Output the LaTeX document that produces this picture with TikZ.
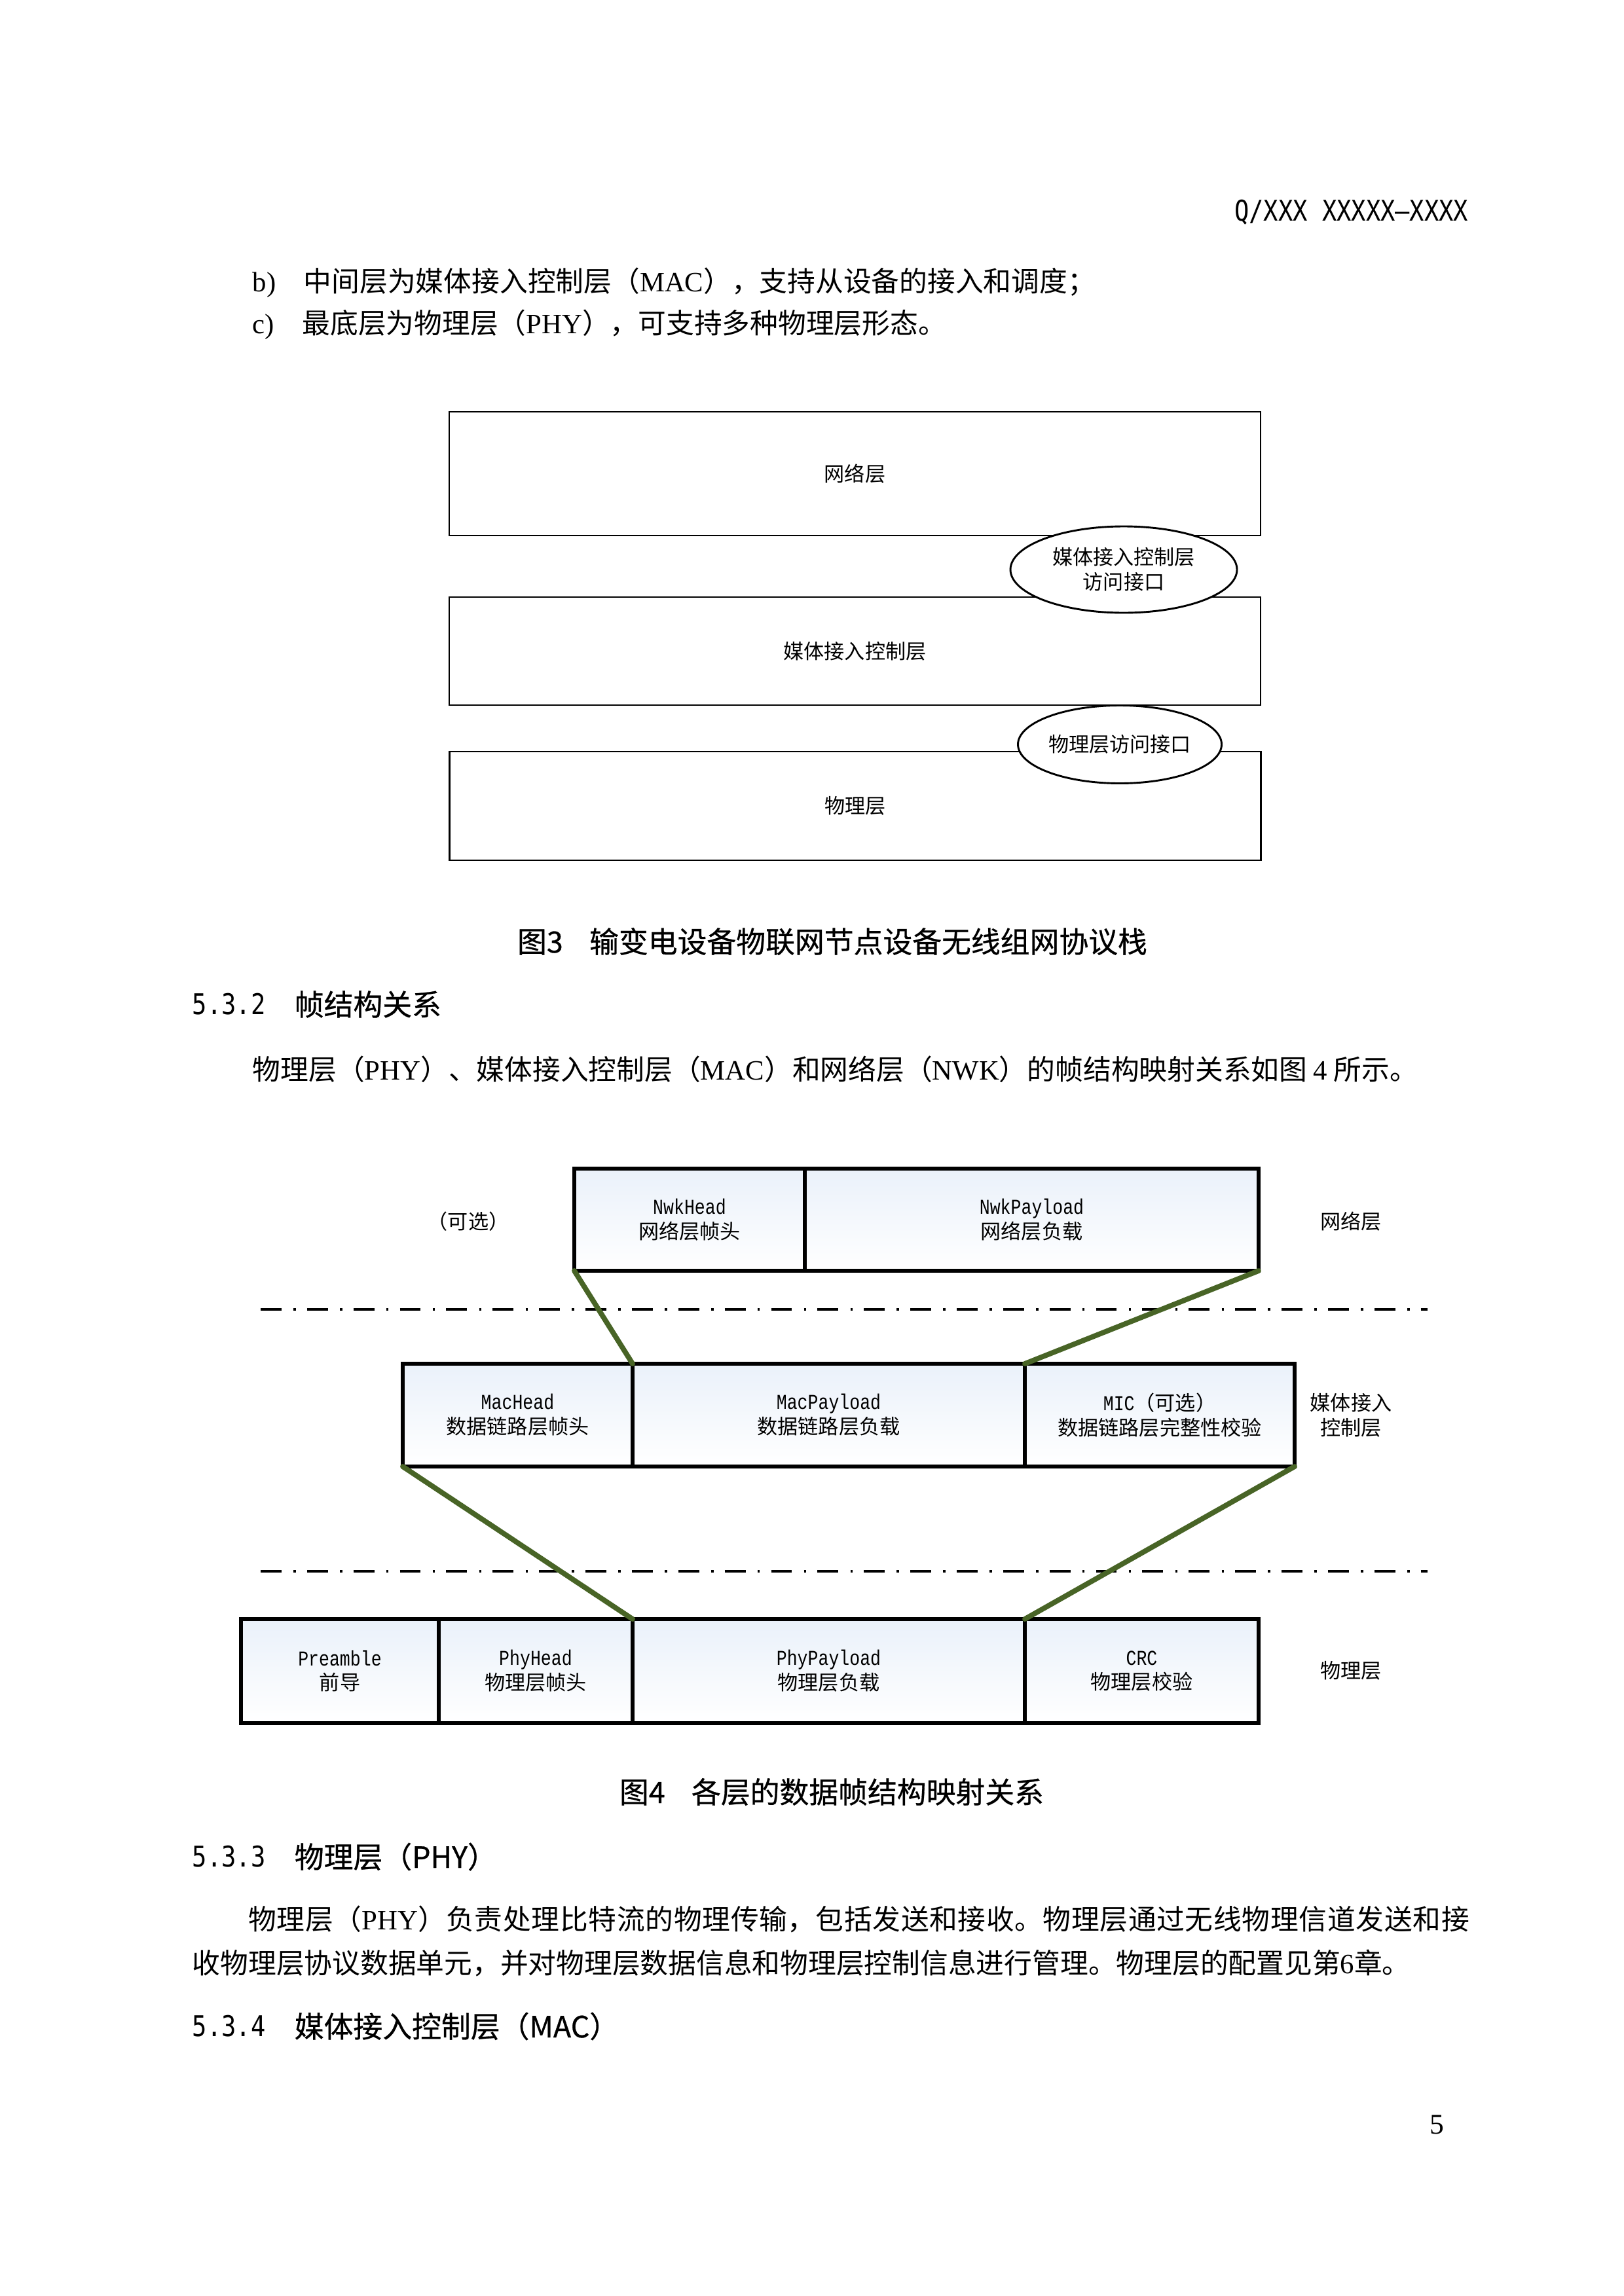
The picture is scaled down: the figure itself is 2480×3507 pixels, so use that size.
\documentclass[tikz,border=0pt]{standalone}
\usepackage{fontspec}
\setmainfont{Liberation Serif}
\newfontfamily\cjk{Noto Sans CJK SC}
\newfontfamily\hei{Noto Sans CJK SC}[FakeBold=0.6]
\newfontfamily\monolat{Liberation Mono}[FakeStretch=0.82]
\newfontfamily\sansmono{DejaVu Sans Mono}[FakeStretch=0.85]
\usetikzlibrary{positioning, shapes.geometric}
\XeTeXlinebreaklocale "zh"
\XeTeXlinebreakskip=0pt plus 1pt minus 0.1pt

\definecolor{linkgreen}{RGB}{72,100,38}
\definecolor{celltint}{RGB}{234,241,250}
\newcommand{\pxu}{0.08467mm}
\newcommand{\lat}[1]{{\monolat\fontsize{7.8}{9.1}\selectfont #1}}

\tikzset{
  body/.style={font=\cjk\fontsize{10.3}{16.15}\selectfont, inner sep=0pt, anchor=west},
  heading/.style={font=\hei\fontsize{10.8}{13}\selectfont, inner sep=0pt},
  secnum/.style={font=\sansmono\fontsize{10.5}{12}\selectfont, inner sep=0pt, anchor=west},
  layer/.style={draw, line width=0.7pt, inner sep=0pt, outer sep=0pt,
    minimum width=1239*\pxu, font=\cjk\fontsize{7.5}{9}\selectfont},
  sap/.style={ellipse, draw, fill=white, line width=0.7pt, inner sep=0pt,
    align=center, font=\cjk\fontsize{7.5}{9.2}\selectfont},
  cell/.style={draw, line width=1.4pt, inner sep=0pt, outer sep=0pt, align=center,
    top color=celltint, middle color=white, bottom color=white,
    font=\cjk\fontsize{7.5}{9.1}\selectfont},
  side/.style={align=center, inner sep=0pt, font=\cjk\fontsize{7.5}{9.1}\selectfont},
  link/.style={draw=linkgreen, line width=1.9pt, line cap=round},
  sepline/.style={line width=1.1pt, dash pattern=on 2.7mm off 1.55mm on 0.3mm off 1.45mm}
}

\begin{document}
\begin{tikzpicture}[x=0.08467mm, y=-0.08467mm]
  \path[fill=white] (0,0) rectangle (2480,3507);
  \useasboundingbox (0,0) rectangle (2480,3507);

  % page text above figure 3
  \node[secnum, anchor=east] (hdr) at (2243,324) {Q/XXX XXXXX—XXXX};
  \node[body] (itemb) at (385,432) {\textrm{b)}\hspace{3.6mm}中间层为媒体接入控制层（\textrm{MAC}），支持从设备的接入和调度；};
  \node[body] (itemc) at (385,496) {\textrm{c)}\hspace{3.6mm}最底层为物理层（\textrm{PHY}），可支持多种物理层形态。};

  % figure 3: protocol stack
  \node[layer, minimum height=189*\pxu] (net) at (1305.5,723.5) {网络层};
  \node[layer, minimum height=165*\pxu] (mac) at (1305.5,994.5) {媒体接入控制层};
  \node[layer, minimum height=166*\pxu] (phy) at (1306,1231) {物理层};
  \node[sap, minimum width=346*\pxu, minimum height=132*\pxu] (macsap) at (1716,870) {媒体接入控制层\\访问接口};
  \node[sap, minimum width=311*\pxu, minimum height=119*\pxu] (physap) at (1710,1137) {物理层访问接口};

  \node[heading] (cap3) at (1271,1438) {图3\hspace{0.9em}输变电设备物联网节点设备无线组网协议栈};
  \node[secnum] (num532) at (293,1534) {5.3.2};
  \node[heading, anchor=west] (sec532) at (449,1534) {帧结构关系};
  \node[body] (para1) at (385,1633) {物理层（\textrm{PHY}）、媒体接入控制层（\textrm{MAC}）和网络层（\textrm{NWK}）的帧结构映射关系如图 \textrm{4} 所示。};

  % figure 4: frame mapping
  \coordinate (sepa1) at (398,2000);
  \coordinate (sepa2) at (2180,2000);
  \coordinate (sepb1) at (398,2400);
  \coordinate (sepb2) at (2180,2400);
  \draw[sepline] (sepa1) -- (sepa2);
  \draw[sepline] (sepb1) -- (sepb2);

  \node[cell, minimum width=352*\pxu, minimum height=156*\pxu] (nwkhead) at (1053,1863) {\lat{NwkHead}\\网络层帧头};
  \node[cell, minimum width=693*\pxu, minimum height=156*\pxu, right=0pt of nwkhead] (nwkpay) {\lat{NwkPayload}\\网络层负载};

  \node[cell, minimum width=351*\pxu, minimum height=157*\pxu] (machead) at (790.5,2161.5) {\lat{MacHead}\\数据链路层帧头};
  \node[cell, minimum width=599*\pxu, minimum height=157*\pxu, right=0pt of machead] (macpay) {\lat{MacPayload}\\数据链路层负载};
  \node[cell, minimum width=412*\pxu, minimum height=157*\pxu, right=0pt of macpay] (mic) {\lat{MIC}（可选）\\数据链路层完整性校验};

  \node[cell, minimum width=302*\pxu, minimum height=159*\pxu] (preamble) at (519,2552.5) {\lat{Preamble}\\前导};
  \node[cell, minimum width=296*\pxu, minimum height=159*\pxu, right=0pt of preamble] (phyhead) {\lat{PhyHead}\\物理层帧头};
  \node[cell, minimum width=599*\pxu, minimum height=159*\pxu, right=0pt of phyhead] (phypay) {\lat{PhyPayload}\\物理层负载};
  \node[cell, minimum width=357*\pxu, minimum height=159*\pxu, right=0pt of phypay] (crc) {\lat{CRC}\\物理层校验};

  \node[side] (opt) at (715,1866) {（可选）};
  \node[side] (lblnet) at (2063,1866) {网络层};
  \node[side] (lblmac) at (2063,2162) {媒体接入\\控制层};
  \node[side] (lblphy) at (2063,2552) {物理层};

  \draw[link] (nwkhead.south west) -- (macpay.north west);
  \draw[link] (nwkpay.south east) -- (mic.north west);
  \draw[link] (machead.south west) -- (phypay.north west);
  \draw[link] (mic.south east) -- (crc.north west);

  % page text below figure 4
  \node[heading] (cap4) at (1270,2737) {图4\hspace{0.9em}各层的数据帧结构映射关系};
  \node[secnum] (num533) at (293,2836) {5.3.3};
  \node[heading, anchor=west] (sec533) at (449,2836) {物理层（PHY）};
  \node[body, anchor=north west, text width=165.1mm, align=justify] (para2) at (293,2910) {\hspace*{2em}物理层（\textrm{PHY}）负责处理比特流的物理传输，包括发送和接收。物理层通过无线物理信道发送和接\linebreak 收物理层协议数据单元，并对物理层数据信息和物理层控制信息进行管理。物理层的配置见第\textrm{6}章。};
  \node[secnum] (num534) at (293,3095) {5.3.4};
  \node[heading, anchor=west] (sec534) at (449,3095) {媒体接入控制层（MAC）};
  \node[inner sep=0pt, font=\rmfamily\fontsize{10.5}{12}\selectfont] (pgno) at (2194,3245) {5};
\end{tikzpicture}
\end{document}
